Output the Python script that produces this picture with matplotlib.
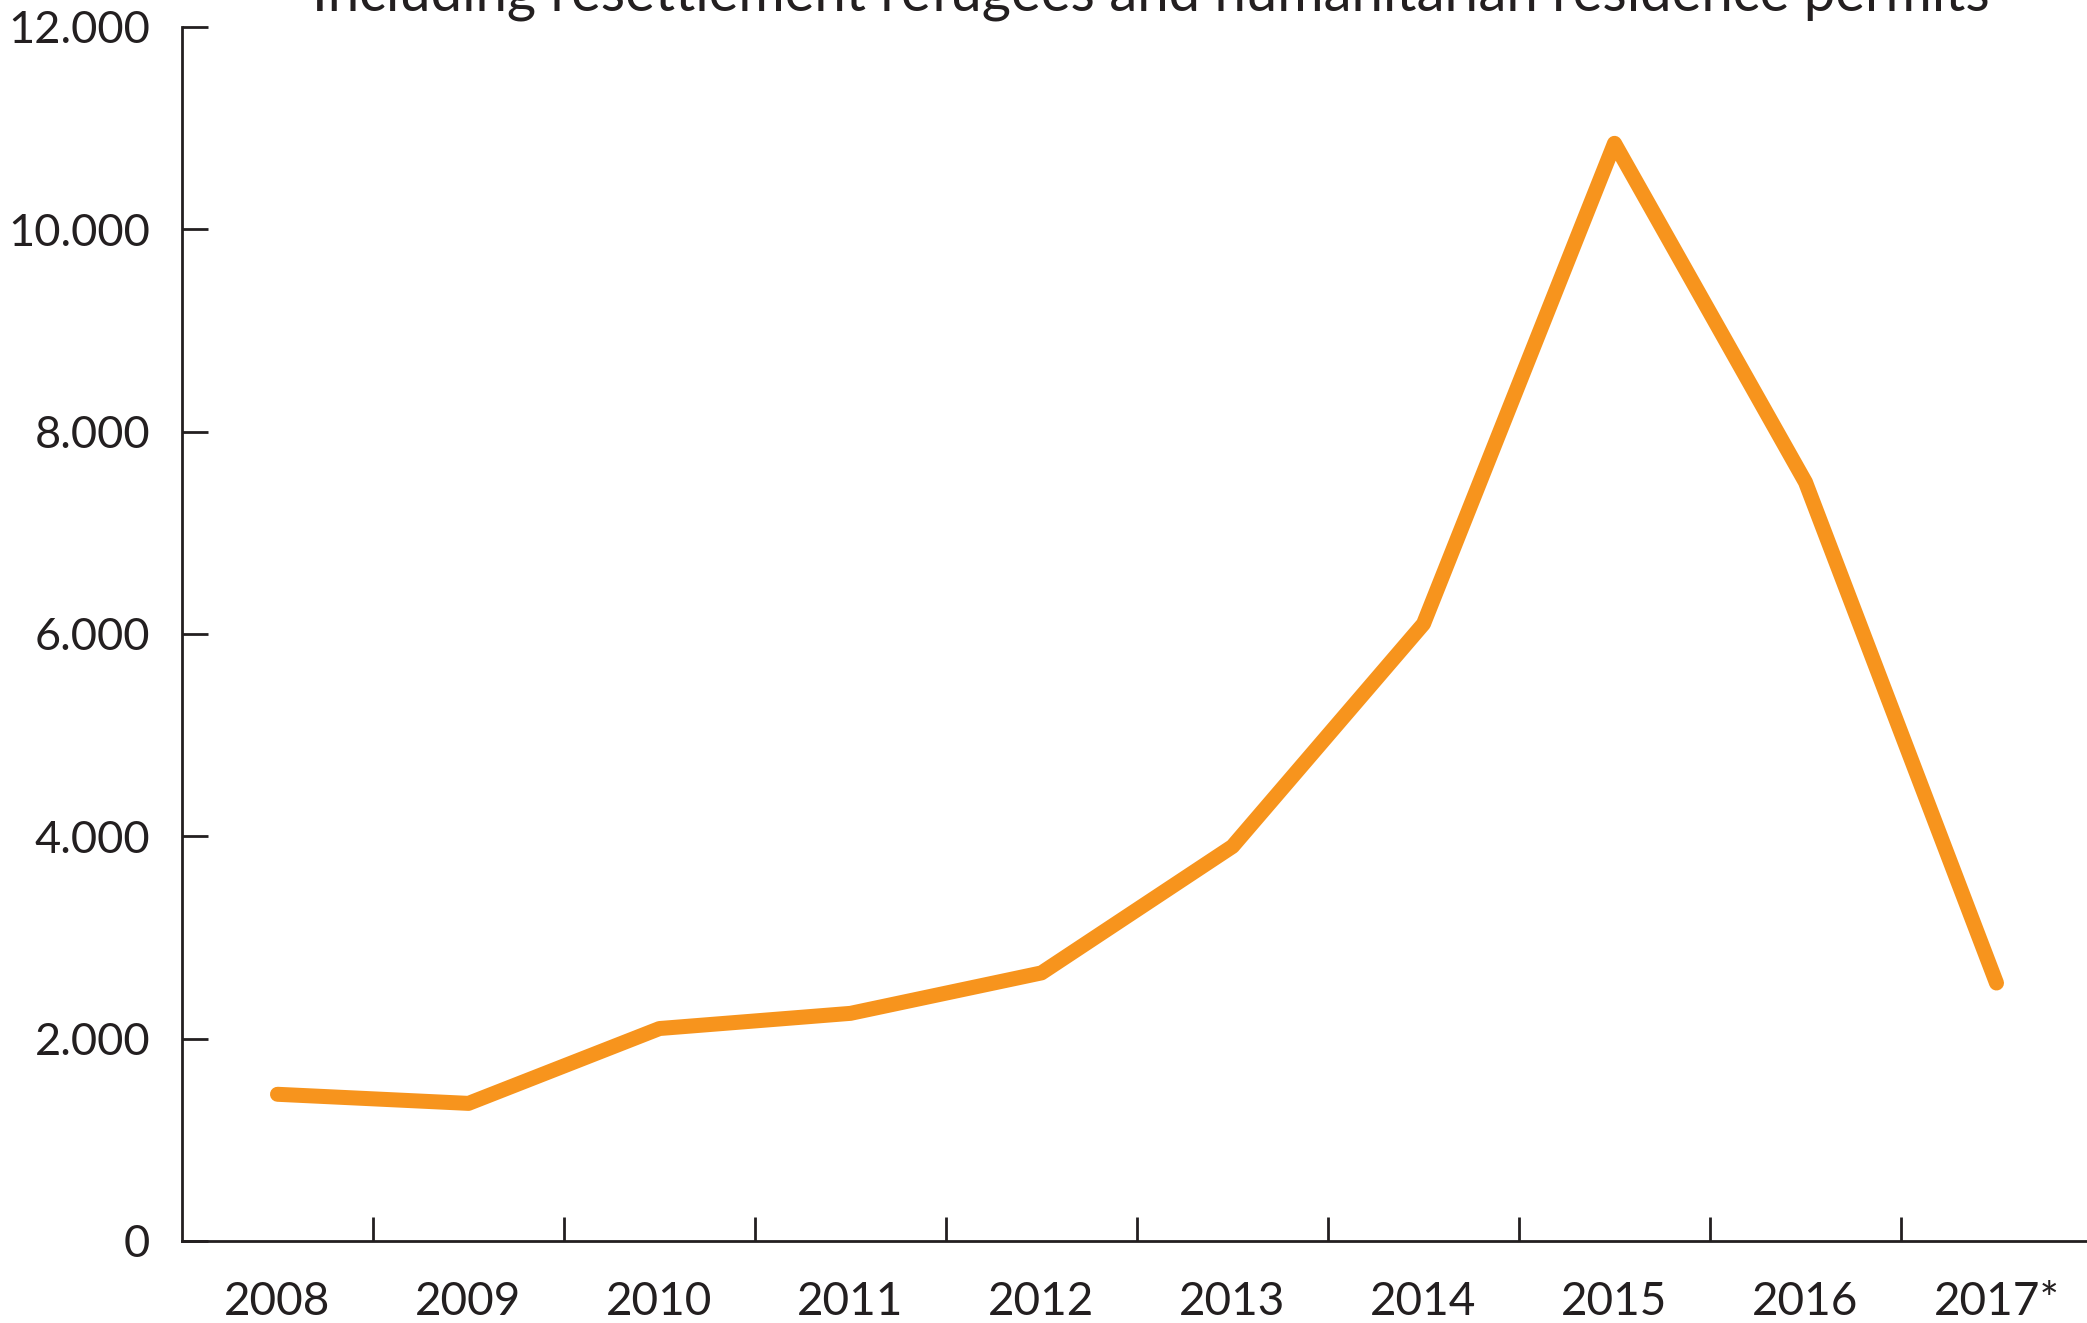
import matplotlib
matplotlib.use('Agg')
import matplotlib.pyplot as plt
from matplotlib.ticker import FuncFormatter

# data
years = ['2008', '2009', '2010', '2011', '2012', '2013', '2014', '2015', '2016', '2017*']
values = [1450, 1360, 2100, 2250, 2650, 3900, 6100, 10850, 7500, 2550]
title = 'Including resettlement refugees and humanitarian residence permits'

plt.rcParams['font.family'] = ['Lato', 'DejaVu Sans']
ink = '#231F20'

fig = plt.figure(figsize=(20.87, 13.23), dpi=100)
ax = fig.add_axes([0.0872, 0.062, 0.9152, 0.9176])

x = list(range(len(years)))
ax.plot(x, values, color='#F7941D', lw=10.8, solid_capstyle='round', solid_joinstyle='round')

ax.set_xlim(-0.5, len(years) - 0.5)
ax.set_ylim(0, 12000)
ax.set_yticks(range(0, 12001, 2000))
ax.yaxis.set_major_formatter(FuncFormatter(lambda v, p: f'{int(v):,}'.replace(',', '.')))
ax.set_xticks(x)
ax.set_xticklabels(years)
ax.set_xticks([i + 0.5 for i in x[:-1]], minor=True)

for s in ['top', 'right']:
    ax.spines[s].set_visible(False)
for s in ['left', 'bottom']:
    ax.spines[s].set_linewidth(2)
    ax.spines[s].set_color(ink)

ax.tick_params(axis='y', direction='in', length=18.5, width=2, color=ink,
               labelsize=32.5, labelcolor=ink, pad=23)
ax.tick_params(axis='x', which='major', length=0, labelsize=33, labelcolor=ink, pad=29)
ax.tick_params(axis='x', which='minor', direction='in', length=17, width=2, color=ink)

fig.text(0.5515, 0.9917, title, ha='center', va='baseline', fontsize=40.5, color=ink)

fig.savefig('out.png', dpi=100)
